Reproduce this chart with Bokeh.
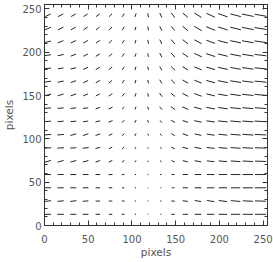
import numpy as np
from bokeh.plotting import figure
from bokeh.models import LinearAxis, SingleIntervalTicker, CustomJSTickFormatter, Range1d
from bokeh.embed import file_html
from bokeh.resources import INLINE

# grid positions of the vectors (pixels)
x_grid = [4, 18.5, 33, 47, 61, 75.5, 90, 104, 118.5, 133, 147, 161, 175.5, 190, 204, 218.5, 232.5, 247]
y_grid = [12.9, 28.2, 43.5, 58.8, 74.1, 89.5, 104.8, 120.1, 135.4, 150.7, 166.0, 181.3, 196.6, 212.0, 227.3, 242.6]

# vector direction (degrees from +x) per row, bottom row first
angle_rows = [
    [0, 0, 0, 0, 0, 0, 0, 0, 0, 0, 0, 0, 0, 0, 0, 0, 0, 0],
    [8, 6, 8, 4, 2, 0, 0, 0, 0, 0, -4, -7, -9, -9, -7, -5, -3, -2],
    [0, 0, 0, 0, 0, 0, 0, 0, 0, 0, 0, 0, 0, 0, 0, 0, 0, 0],
    [0, 0, 0, 0, 0, 3, 10, 20, -20, -10, -3, 0, 0, 0, 0, 0, 0, 0],
    [15, 15, 15, 15, 18, 25, 40, 60, -60, -40, -25, -15, -10, -6, -5, -4, -3, -2],
    [3, 3, 4, 5, 15, 30, 45, 60, -60, -40, -25, -15, -10, -6, -5, -4, -3, -2],
    [5, 5, 15, 18, 20, 25, 40, 65, -70, -45, -30, -20, -12, -8, -6, -5, -4, -3],
    [4, 5, 6, 8, 15, 20, 40, 65, -70, -45, -30, -18, -12, -8, -6, -5, -4, -3],
    [5, 5, 6, 8, 20, 25, 45, 70, -75, -50, -35, -22, -15, -10, -8, -6, -5, -4],
    [15, 18, 20, 22, 28, 35, 50, 70, -80, -55, -40, -28, -20, -14, -10, -8, -6, -5],
    [8, 12, 20, 25, 30, 40, 55, 75, -80, -60, -45, -30, -22, -15, -11, -9, -7, -5],
    [5, 8, 12, 25, 30, 40, 55, 75, -80, -60, -45, -32, -22, -16, -12, -10, -8, -6],
    [8, 12, 22, 28, 32, 40, 55, 70, -80, -62, -48, -35, -25, -18, -14, -11, -9, -7],
    [12, 22, 25, 30, 35, 45, 55, 75, -80, -65, -50, -38, -28, -20, -15, -12, -10, -8],
    [25, 28, 30, 35, 40, 48, 60, 75, -80, -65, -50, -40, -30, -22, -18, -14, -11, -9],
    [25, 28, 30, 33, 38, 45, 55, 70, -80, -65, -55, -42, -32, -25, -20, -15, -12, -10],
]

# vector magnitude per row, bottom row first
mag_rows = [
    [7, 7.5, 7, 6.5, 5, 4, 3, 1.2, 0.8, 1.2, 4, 6, 7.5, 8.5, 9.5, 10.5, 11.5, 12.5],
    [7, 7, 7, 6.5, 5, 4, 3, 1.4, 1, 1.4, 4, 6, 7.5, 8.5, 9.5, 11, 11.5, 12.5],
    [7, 7, 7, 6.5, 5, 4, 2.5, 1.2, 0.8, 1.2, 3, 6, 7.5, 8.5, 9.5, 10.5, 11.5, 13],
    [7, 7, 7, 6.5, 5.5, 4.5, 3, 1.7, 1.2, 1.7, 3.5, 6, 7.5, 8.5, 9.5, 11, 12, 12.5],
    [7, 7, 7, 6.5, 5.5, 4.5, 3.5, 2.3, 1.7, 2.3, 4, 6, 7.5, 8.5, 9.5, 11, 12, 12.5],
    [7.5, 7.5, 7, 7, 5.5, 4.5, 3.5, 2.3, 1.7, 2.3, 4.5, 6.5, 8, 9, 10, 11.5, 12, 12.5],
    [7.5, 7.5, 7, 6.5, 5.5, 4.5, 3.5, 3, 2.3, 3, 4.5, 6.5, 8, 9, 10, 11.5, 12.5, 13],
    [7, 7, 6.5, 6, 5.5, 5, 4, 3.5, 3, 3.5, 5, 6.5, 8.5, 9.5, 11, 12, 12.5, 13.5],
    [7, 7, 6.5, 6, 5.5, 5, 4, 3.5, 3.5, 4.5, 6, 7.5, 9, 10, 11, 12, 12.5, 13],
    [7.5, 7, 6.5, 6, 5.5, 5, 4.5, 4, 4, 5, 6, 7.5, 9, 10, 11, 12, 13, 13.5],
    [7, 7, 6.5, 6, 5.5, 5, 4.5, 4, 4, 5, 6.5, 7.5, 9, 10.5, 11.5, 12.5, 13, 13.5],
    [7, 6.5, 6.5, 6, 5.5, 5, 4.5, 4, 4, 5, 6.5, 7.5, 9, 10.5, 11.5, 12, 13, 13.5],
    [7, 7, 6.5, 6, 5.5, 5, 4.5, 4, 4, 5.5, 6.5, 8, 9.5, 11, 11.5, 12.5, 13, 13.5],
    [7, 7, 6.5, 6, 5.5, 5, 4.5, 4, 4.5, 5.5, 6.5, 8, 9.5, 10.5, 11.5, 12.5, 13.5, 14],
    [7.5, 7, 6.5, 6, 5.5, 5, 4.5, 4, 4.5, 5.5, 6.5, 8, 10, 11, 11.5, 12.5, 13.5, 14],
    [6.8, 6.8, 6, 5.7, 5.4, 4.9, 4.6, 4.6, 4.6, 5.7, 6.5, 7.6, 9.5, 10.6, 11.4, 12.5, 13.7, 13.7],
]

X, Y = np.meshgrid(np.array(x_grid), np.array(y_grid))
A = np.radians(np.array(angle_rows, dtype=float))
M = np.array(mag_rows, dtype=float)
hx = 0.5 * M * np.cos(A)
hy = 0.5 * M * np.sin(A)

p = figure(width=273, height=262, x_range=Range1d(0, 255), y_range=Range1d(0, 255),
           output_backend="svg", toolbar_location=None,
           min_border_left=41, min_border_right=6, min_border_top=4, min_border_bottom=37)
p.background_fill_color = "white"
p.border_fill_color = "white"
p.outline_line_color = "#333333"
p.xgrid.visible = False
p.ygrid.visible = False

p.segment(x0=(X - hx).ravel(), y0=(Y - hy).ravel(), x1=(X + hx).ravel(), y1=(Y + hy).ravel(),
          line_color="#262626", line_width=1)

def style(ax):
    ax.ticker = SingleIntervalTicker(interval=50, num_minor_ticks=5)
    ax.major_tick_in = 5
    ax.major_tick_out = 0
    ax.minor_tick_in = 3
    ax.minor_tick_out = 0
    ax.axis_line_color = "#333333"
    ax.major_tick_line_color = "#333333"
    ax.minor_tick_line_color = "#333333"
    ax.major_label_text_font = "DejaVu Sans"
    ax.major_label_text_font_size = "10px"
    ax.major_label_text_color = "#555555"
    ax.axis_label_text_font = "DejaVu Sans"
    ax.axis_label_text_font_size = "10.5px"
    ax.axis_label_text_font_style = "normal"
    ax.axis_label_text_color = "#555555"

xa = p.xaxis[0]
ya = p.yaxis[0]
style(xa)
style(ya)
xa.axis_label = "pixels"
ya.axis_label = "pixels"
xa.major_label_standoff = 9
xa.axis_label_standoff = 0
ya.major_label_standoff = 3
ya.axis_label_standoff = 4

top = LinearAxis(formatter=CustomJSTickFormatter(code="return ''"))
right = LinearAxis(formatter=CustomJSTickFormatter(code="return ''"))
for ax in (top, right):
    style(ax)
    ax.major_label_standoff = 0
p.add_layout(top, "above")
p.add_layout(right, "right")

open("out.html", "w").write(file_html(p, INLINE))
